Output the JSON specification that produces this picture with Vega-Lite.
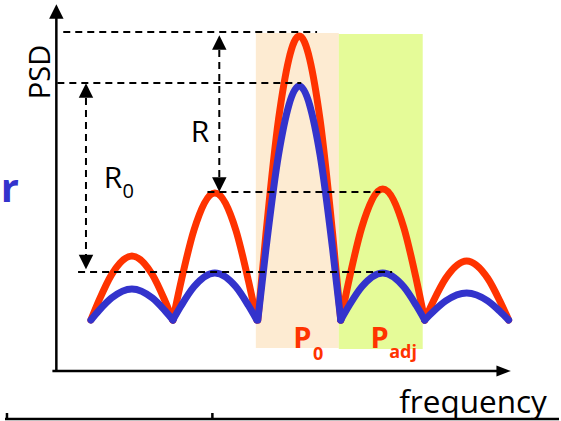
{
  "$schema": "https://vega.github.io/schema/vega-lite/v6.json",
  "width": 561,
  "height": 421,
  "autosize": {"type": "fit", "contains": "padding"},
  "padding": 0,
  "background": "white",
  "config": {"view": {"stroke": null}, "font": "Open Sans"},
  "datasets": {
    "regions": [
      {"region": "P0", "f": 254, "f2": 338, "psd": 73, "psd2": 388},
      {"region": "Padj", "f": 338, "f2": 423, "psd": 72, "psd2": 387}
    ],
    "curves": [
      {"s": "red", "lobe": 1, "f": 87, "psd": 101}, {"s": "red", "lobe": 1, "f": 95.3, "psd": 120.8}, {"s": "red", "lobe": 1, "f": 107.8, "psd": 146.2}, {"s": "red", "lobe": 1, "f": 128.5, "psd": 165}, {"s": "red", "lobe": 1, "f": 149.3, "psd": 146.2}, {"s": "red", "lobe": 1, "f": 161.7, "psd": 120.8}, {"s": "red", "lobe": 1, "f": 170, "psd": 101},
      {"s": "red", "lobe": 2, "f": 170, "psd": 101}, {"s": "red", "lobe": 2, "f": 178.5, "psd": 140.2}, {"s": "red", "lobe": 2, "f": 191.3, "psd": 190.8}, {"s": "red", "lobe": 2, "f": 212.5, "psd": 228}, {"s": "red", "lobe": 2, "f": 233.8, "psd": 190.8}, {"s": "red", "lobe": 2, "f": 246.5, "psd": 140.2}, {"s": "red", "lobe": 2, "f": 255, "psd": 101},
      {"s": "red", "lobe": 3, "f": 256, "psd": 101}, {"s": "red", "lobe": 3, "f": 264.4, "psd": 188.8}, {"s": "red", "lobe": 3, "f": 277, "psd": 301.8}, {"s": "red", "lobe": 3, "f": 298, "psd": 385}, {"s": "red", "lobe": 3, "f": 319, "psd": 301.8}, {"s": "red", "lobe": 3, "f": 331.6, "psd": 188.8}, {"s": "red", "lobe": 3, "f": 340, "psd": 101},
      {"s": "red", "lobe": 4, "f": 340, "psd": 101}, {"s": "red", "lobe": 4, "f": 348.5, "psd": 141.5}, {"s": "red", "lobe": 4, "f": 361.3, "psd": 193.6}, {"s": "red", "lobe": 4, "f": 382.5, "psd": 232}, {"s": "red", "lobe": 4, "f": 403.8, "psd": 193.6}, {"s": "red", "lobe": 4, "f": 416.5, "psd": 141.5}, {"s": "red", "lobe": 4, "f": 425, "psd": 101},
      {"s": "red", "lobe": 5, "f": 425, "psd": 101}, {"s": "red", "lobe": 5, "f": 433.5, "psd": 119.2}, {"s": "red", "lobe": 5, "f": 446.3, "psd": 142.7}, {"s": "red", "lobe": 5, "f": 467.5, "psd": 160}, {"s": "red", "lobe": 5, "f": 488.8, "psd": 142.7}, {"s": "red", "lobe": 5, "f": 501.5, "psd": 119.2}, {"s": "red", "lobe": 5, "f": 510, "psd": 101},
      {"s": "blue", "lobe": 1, "f": 87, "psd": 101}, {"s": "blue", "lobe": 1, "f": 95.3, "psd": 110.6}, {"s": "blue", "lobe": 1, "f": 107.8, "psd": 122.9}, {"s": "blue", "lobe": 1, "f": 128.5, "psd": 132}, {"s": "blue", "lobe": 1, "f": 149.3, "psd": 122.9}, {"s": "blue", "lobe": 1, "f": 161.7, "psd": 110.6}, {"s": "blue", "lobe": 1, "f": 170, "psd": 101},
      {"s": "blue", "lobe": 2, "f": 170, "psd": 101}, {"s": "blue", "lobe": 2, "f": 178.5, "psd": 115.5}, {"s": "blue", "lobe": 2, "f": 191.3, "psd": 134.2}, {"s": "blue", "lobe": 2, "f": 212.5, "psd": 148}, {"s": "blue", "lobe": 2, "f": 233.8, "psd": 134.2}, {"s": "blue", "lobe": 2, "f": 246.5, "psd": 115.5}, {"s": "blue", "lobe": 2, "f": 255, "psd": 101},
      {"s": "blue", "lobe": 3, "f": 256, "psd": 101}, {"s": "blue", "lobe": 3, "f": 264.4, "psd": 173.3}, {"s": "blue", "lobe": 3, "f": 277, "psd": 266.4}, {"s": "blue", "lobe": 3, "f": 298, "psd": 335}, {"s": "blue", "lobe": 3, "f": 319, "psd": 266.4}, {"s": "blue", "lobe": 3, "f": 331.6, "psd": 173.3}, {"s": "blue", "lobe": 3, "f": 340, "psd": 101},
      {"s": "blue", "lobe": 4, "f": 340, "psd": 101}, {"s": "blue", "lobe": 4, "f": 348.5, "psd": 115.5}, {"s": "blue", "lobe": 4, "f": 361.3, "psd": 134.2}, {"s": "blue", "lobe": 4, "f": 382.5, "psd": 148}, {"s": "blue", "lobe": 4, "f": 403.8, "psd": 134.2}, {"s": "blue", "lobe": 4, "f": 416.5, "psd": 115.5}, {"s": "blue", "lobe": 4, "f": 425, "psd": 101},
      {"s": "blue", "lobe": 5, "f": 425, "psd": 101}, {"s": "blue", "lobe": 5, "f": 433.5, "psd": 109.3}, {"s": "blue", "lobe": 5, "f": 446.3, "psd": 120.1}, {"s": "blue", "lobe": 5, "f": 467.5, "psd": 128}, {"s": "blue", "lobe": 5, "f": 488.8, "psd": 120.1}, {"s": "blue", "lobe": 5, "f": 501.5, "psd": 109.3}, {"s": "blue", "lobe": 5, "f": 510, "psd": 101}
    ],
    "rules": [
      {"kind": "solid", "f": 52, "f2": 52, "psd": 50, "psd2": 404},
      {"kind": "solid", "f": 48, "f2": 500, "psd": 50, "psd2": 50},
      {"kind": "solid", "f": 0, "f2": 561, "psd": 2, "psd2": 2},
      {"kind": "solid", "f": 2, "f2": 2, "psd": 2, "psd2": 8},
      {"kind": "solid", "f": 210, "f2": 210, "psd": 2, "psd2": 8},
      {"kind": "dashed", "f": 59, "f2": 316, "psd": 389, "psd2": 389},
      {"kind": "dashed", "f": 53, "f2": 300, "psd": 338, "psd2": 338},
      {"kind": "dashed", "f": 205, "f2": 380, "psd": 229, "psd2": 229},
      {"kind": "dashed", "f": 74, "f2": 392, "psd": 149, "psd2": 149},
      {"kind": "dashed", "f": 217, "f2": 217, "psd": 371, "psd2": 244},
      {"kind": "dashed", "f": 82, "f2": 82, "psd": 323, "psd2": 166}
    ],
    "heads": [
      {"dir": "up", "f": 52, "psd": 409.5},
      {"dir": "right", "f": 505, "psd": 50},
      {"dir": "up", "f": 217, "psd": 378.5},
      {"dir": "down", "f": 217, "psd": 236.5},
      {"dir": "up", "f": 82, "psd": 330.5},
      {"dir": "down", "f": 82, "psd": 159}
    ],
    "txtR": [{"label": "R", "f": 188, "psd": 279}, {"label": "R", "f": 100, "psd": 233}],
    "txtRsub": [{"label": "0", "f": 119, "psd": 223}],
    "txtPSD": [{"label": "PSD", "f": 36.5, "psd": 349}],
    "txtFreq": [{"label": "frequency", "f": 474, "psd": 8}],
    "txtP": [{"label": "P", "f": 292, "psd": 73}, {"label": "P", "f": 370, "psd": 73}],
    "txtPsub": [{"label": "0", "f": 312, "psd": 61}, {"label": "adj", "f": 389, "psd": 63}],
    "txtr": [{"label": "r", "f": 14, "psd": 219}]
  },
  "layer": [
    {
      "data": {"name": "regions"},
      "mark": {"type": "rect"},
      "encoding": {
        "x": {"field": "f", "type": "quantitative", "scale": {"domain": [0, 561], "nice": false, "zero": false}, "axis": null},
        "x2": {"field": "f2"},
        "y": {"field": "psd", "type": "quantitative", "scale": {"domain": [0, 421], "nice": false, "zero": false}, "axis": null},
        "y2": {"field": "psd2"},
        "fill": {"field": "region", "type": "nominal", "scale": {"domain": ["P0", "Padj"], "range": ["#fdebd2", "#e5fb98"]}, "legend": null}
      }
    },
    {
      "data": {"name": "curves"},
      "transform": [{"filter": "datum.s === 'red'"}],
      "mark": {"type": "line", "interpolate": "monotone", "strokeWidth": 7, "strokeCap": "round", "color": "#ff3300"},
      "encoding": {
        "x": {"field": "f", "type": "quantitative"},
        "y": {"field": "psd", "type": "quantitative"},
        "detail": {"field": "lobe", "type": "nominal"}
      }
    },
    {
      "data": {"name": "curves"},
      "transform": [{"filter": "datum.s === 'blue'"}],
      "mark": {"type": "line", "interpolate": "monotone", "strokeWidth": 7, "strokeCap": "round", "color": "#3333cc"},
      "encoding": {
        "x": {"field": "f", "type": "quantitative"},
        "y": {"field": "psd", "type": "quantitative"},
        "detail": {"field": "lobe", "type": "nominal"}
      }
    },
    {
      "data": {"name": "rules"},
      "transform": [{"filter": "datum.kind === 'dashed'"}],
      "mark": {"type": "rule", "color": "black", "strokeWidth": 2, "strokeDash": [7, 5]},
      "encoding": {
        "x": {"field": "f", "type": "quantitative"},
        "x2": {"field": "f2"},
        "y": {"field": "psd", "type": "quantitative"},
        "y2": {"field": "psd2"}
      }
    },
    {
      "data": {"name": "rules"},
      "transform": [{"filter": "datum.kind === 'solid'"}],
      "mark": {"type": "rule", "color": "black", "strokeWidth": 2.5},
      "encoding": {
        "x": {"field": "f", "type": "quantitative"},
        "x2": {"field": "f2"},
        "y": {"field": "psd", "type": "quantitative"},
        "y2": {"field": "psd2"}
      }
    },
    {
      "data": {"name": "heads"},
      "mark": {"type": "point", "filled": true, "color": "black", "size": 210, "opacity": 1, "strokeWidth": 0},
      "encoding": {
        "x": {"field": "f", "type": "quantitative"},
        "y": {"field": "psd", "type": "quantitative"},
        "shape": {"field": "dir", "type": "nominal", "scale": {"domain": ["up", "down", "right"], "range": ["M0,-1L1,1L-1,1Z", "M0,1L1,-1L-1,-1Z", "M1,0L-1,0.75L-1,-0.75Z"]}, "legend": null}
      }
    },
    {
      "data": {"name": "txtR"},
      "mark": {"type": "text", "font": "Open Sans", "fontSize": 30, "align": "left", "baseline": "alphabetic", "color": "black"},
      "encoding": {"x": {"field": "f", "type": "quantitative"}, "y": {"field": "psd", "type": "quantitative"}, "text": {"field": "label"}}
    },
    {
      "data": {"name": "txtRsub"},
      "mark": {"type": "text", "font": "Open Sans", "fontSize": 20, "align": "left", "baseline": "alphabetic", "color": "black"},
      "encoding": {"x": {"field": "f", "type": "quantitative"}, "y": {"field": "psd", "type": "quantitative"}, "text": {"field": "label"}}
    },
    {
      "data": {"name": "txtPSD"},
      "mark": {"type": "text", "font": "Open Sans", "fontSize": 29, "align": "center", "baseline": "middle", "angle": 270, "color": "black"},
      "encoding": {"x": {"field": "f", "type": "quantitative"}, "y": {"field": "psd", "type": "quantitative"}, "text": {"field": "label"}}
    },
    {
      "data": {"name": "txtFreq"},
      "mark": {"type": "text", "font": "Open Sans", "fontSize": 31.5, "align": "center", "baseline": "alphabetic", "color": "black"},
      "encoding": {"x": {"field": "f", "type": "quantitative"}, "y": {"field": "psd", "type": "quantitative"}, "text": {"field": "label"}}
    },
    {
      "data": {"name": "txtP"},
      "mark": {"type": "text", "font": "Open Sans", "fontSize": 29, "fontWeight": "bold", "align": "left", "baseline": "alphabetic", "color": "#ff3300"},
      "encoding": {"x": {"field": "f", "type": "quantitative"}, "y": {"field": "psd", "type": "quantitative"}, "text": {"field": "label"}}
    },
    {
      "data": {"name": "txtPsub"},
      "mark": {"type": "text", "font": "Open Sans", "fontSize": 18, "fontWeight": "bold", "align": "left", "baseline": "alphabetic", "color": "#ff3300"},
      "encoding": {"x": {"field": "f", "type": "quantitative"}, "y": {"field": "psd", "type": "quantitative"}, "text": {"field": "label"}}
    },
    {
      "data": {"name": "txtr"},
      "mark": {"type": "text", "font": "Open Sans", "fontSize": 40, "fontWeight": "bold", "align": "right", "baseline": "alphabetic", "color": "#3333cc"},
      "encoding": {"x": {"field": "f", "type": "quantitative"}, "y": {"field": "psd", "type": "quantitative"}, "text": {"field": "label"}}
    }
  ]
}
